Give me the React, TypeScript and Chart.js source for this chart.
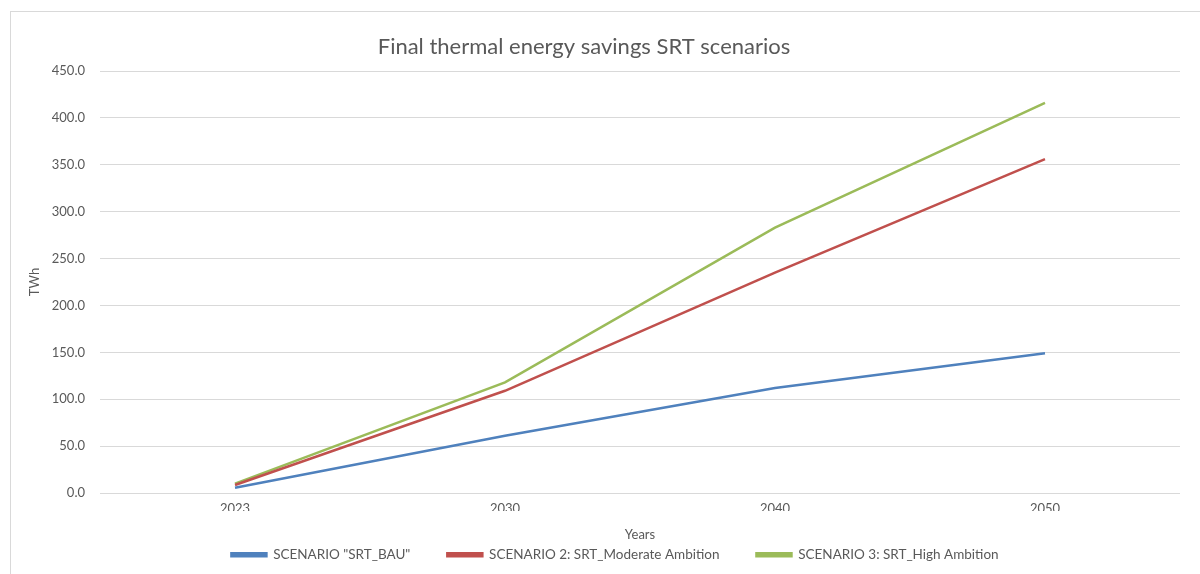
import React, { useEffect, useRef } from "react";
import { Chart, registerables } from "chart.js";

Chart.register(...registerables);

const categories = ["2023", "2030", "2040", "2050"];
const bauValues = [5.7, 61, 112, 149];
const moderateValues = [8.5, 109, 235, 356];
const highValues = [10, 118, 283, 416];
const seriesNames = [
  'SCENARIO "SRT_BAU"',
  "SCENARIO 2: SRT_Moderate Ambition",
  "SCENARIO 3: SRT_High Ambition",
];
const seriesColors = ["#4f81bd", "#c0504d", "#9bbb59"];

const FONT = "Lato, 'Open Sans', sans-serif";
const TEXT = "#595959";

// Shift the title and legend boxes so they are centred where the reference has them.
const boxShift = {
  id: "boxShift",
  afterLayout(chart: any) {
    if (chart.titleBlock) {
      chart.titleBlock.left = 10;
      chart.titleBlock.right = 1158;
    }
    if (chart.legend) {
      chart.legend.left = 50;
      chart.legend.right = 1180;
    }
  },
};

export default function App() {
  const ref = useRef<HTMLCanvasElement | null>(null);

  useEffect(() => {
    if (!ref.current) return;
    const series = [bauValues, moderateValues, highValues];
    const chart = new Chart(ref.current, {
      type: "line",
      data: {
        labels: categories,
        datasets: series.map((values, i) => ({
          label: seriesNames[i],
          data: values,
          borderColor: seriesColors[i],
          backgroundColor: seriesColors[i],
          borderWidth: 2.5,
          pointRadius: 0,
          tension: 0,
          fill: false,
        })),
      },
      plugins: [boxShift],
      options: {
        responsive: false,
        maintainAspectRatio: false,
        animation: false,
        layout: { padding: { left: 10, right: 20, top: 0, bottom: 2.5 } },
        plugins: {
          tooltip: { enabled: false },
          title: {
            display: true,
            text: "Final thermal energy savings SRT scenarios",
            color: TEXT,
            font: { family: FONT, size: 22, weight: "normal" },
            padding: { top: 33.8, bottom: 10.8 },
          },
          legend: {
            position: "bottom",
            fullSize: false,
            labels: {
              color: TEXT,
              font: { family: FONT, size: 13.5 },
              boxWidth: 35,
              boxHeight: 3,
              padding: 37,
            },
          },
        },
        scales: {
          x: {
            type: "category",
            offset: true,
            grid: { display: false, drawTicks: false },
            border: { display: false },
            ticks: {
              color: TEXT,
              font: { family: FONT, size: 13 },
              padding: 8,
              maxRotation: 0,
            },
            title: {
              display: true,
              text: "Years",
              color: TEXT,
              font: { family: FONT, size: 13 },
              padding: { top: 0, bottom: -32 },
            },
            afterFit: (scale: any) => {
              scale.height = 18;
            },
          },
          y: {
            min: 0,
            max: 450,
            grid: { color: "#d9d9d9", lineWidth: 1, drawTicks: false },
            border: { display: false },
            ticks: {
              stepSize: 50,
              color: TEXT,
              font: { family: FONT, size: 13 },
              padding: 15,
              callback: (v: any) => Number(v).toFixed(1),
            },
            title: {
              display: true,
              text: "TWh",
              color: TEXT,
              font: { family: FONT, size: 13 },
              padding: { top: 17.2, bottom: 0 },
            },
            afterFit: (scale: any) => {
              scale.width = 90;
            },
          },
        },
      },
    });
    return () => chart.destroy();
  }, []);

  return (
    <div
      style={{
        position: "fixed",
        left: 0,
        top: 0,
        width: 1200,
        height: 574,
        overflow: "hidden",
        background: "#ffffff",
      }}
    >
      <div
        style={{
          position: "absolute",
          left: 10,
          top: 11,
          width: 1200,
          height: 600,
          border: "1px solid #d9d9d9",
          pointerEvents: "none",
        }}
      />
      <canvas
        ref={ref}
        width={1200}
        height={574}
        style={{ position: "absolute", left: 0, top: 0, width: 1200, height: 574 }}
      />
    </div>
  );
}
